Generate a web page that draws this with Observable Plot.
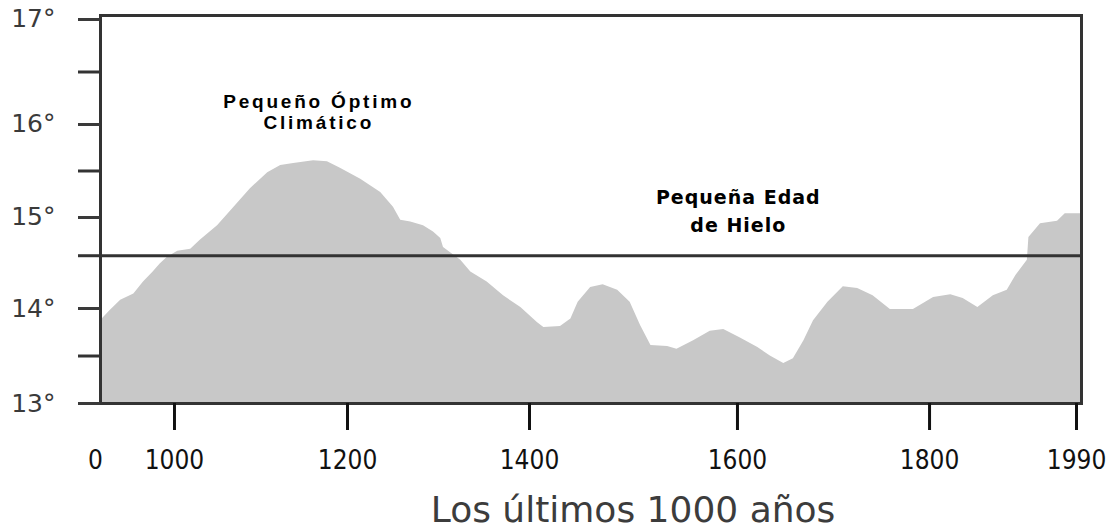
<!DOCTYPE html>
<html>
<head>
<meta charset="utf-8">
<script src="https://cdn.jsdelivr.net/npm/d3@7"></script>
<script src="https://cdn.jsdelivr.net/npm/@observablehq/plot@0.6"></script>
<style>
  html, body { margin: 0; padding: 0; background: #fff; }
  #chart svg { display: block; background: #fff; }
  g[font-family="Liberation Sans"] { letter-spacing: 2.8px; }
  g[font-family="DejaVu Sans"][font-weight="bold"] { letter-spacing: 1px; }
</style>
</head>
<body>
<div id="chart"></div>
<script>
// Temperature curve (year, °C)
const years = [910,921,933,948,959,970,978,986,998,1013,
  1024,1044,1062,1082,1102,1117,1132,1155,1171,1186,
  1209,1231,1245,1253,1264,1278,1289,1297,1300,1319,
  1330,1348,1366,1385,1403,1409,1425,1435,1442,1454,
  1466,1480,1492,1502,1512,1528,1537,1553,1569,1582,
  1598,1616,1629,1643,1653,1664,1674,1689,1705,1720,
  1736,1754,1778,1799,1821,1837,1856,1876,1894,1905,
  1920,1922,1937,1959,1969,1990];
const temps = [13.87,13.98,14.09,14.16,14.29,14.40,14.49,14.56,14.63,14.65,
  14.75,14.91,15.10,15.31,15.48,15.56,15.58,15.61,15.60,15.53,
  15.41,15.27,15.11,14.97,14.95,14.91,14.84,14.77,14.67,14.53,
  14.40,14.29,14.14,14.01,13.85,13.80,13.81,13.89,14.07,14.23,
  14.26,14.20,14.07,13.82,13.61,13.60,13.57,13.66,13.76,13.78,
  13.69,13.59,13.50,13.42,13.47,13.66,13.87,14.07,14.24,14.22,
  14.14,13.99,13.99,14.12,14.15,14.11,14.01,14.14,14.20,14.36,
  14.53,14.78,14.93,14.96,15.04,15.04];

const xTicks = [910, 1000, 1200, 1400, 1600, 1800, 1990];
const xTickLabels = ["0", "1000", "1200", "1400", "1600", "1800", "1990"];
const yTicks = [13, 14, 15, 16, 17];
const yMinorTicks = [13.5, 15.5, 16.5];
const referenceTemp = [14.58];
const annotationOptimo = "Pequeño Óptimo\nClimático";
const annotationHielo = "Pequeña Edad\nde Hielo";
const xTitle = "Los últimos 1000 años";

// The hand-drawn axes are unevenly spaced: fraction of the axis length at each tick
const xTickFractions = [0, 0.0805, 0.2569, 0.4424, 0.6544, 0.8502, 1];
const yTickFractions = [0, 0.2448, 0.4794, 0.7191, 0.9897];
const xWarp = d3.scaleLinear().domain(xTicks).range(xTickFractions);
const yWarp = d3.scaleLinear().domain(yTicks).range(yTickFractions);

const data = years.map((year, i) => ({year, temp: temps[i]}));
const lineColor = "#333";
const tickFont = "Liberation Sans Narrow, DejaVu Sans Condensed, DejaVu Sans, sans-serif";

const chart = Plot.plot({
  width: 1111,
  height: 532,
  marginTop: 15,
  marginLeft: 100,
  marginRight: 30,
  marginBottom: 129,
  style: {background: "#fff"},
  x: {transform: xWarp, domain: [0, 1]},
  y: {transform: yWarp, domain: [0, 1]},
  marks: [
    Plot.areaY(data, {x: "year", y1: 13, y2: "temp", fill: "#c8c8c8", curve: "linear"}),
    Plot.ruleY(referenceTemp, {stroke: lineColor, strokeWidth: 3}),
    Plot.frame({stroke: lineColor, strokeWidth: 3}),
    Plot.axisY(yTicks, {
      tickSize: 22, tickPadding: 23, strokeWidth: 3, color: "#3a3a3a",
      tickFormat: d => d + "°", fontSize: 25, fontFamily: "DejaVu Sans", label: null
    }),
    Plot.axisY([...yMinorTicks, ...referenceTemp], {
      tickSize: 22, strokeWidth: 3, color: lineColor, tickFormat: () => "", label: null
    }),
    Plot.axisX(xTicks.slice(1), {
      tickSize: 27, tickPadding: 20, strokeWidth: 3, color: "#111", dx: -5,
      tickFormat: d => xTickLabels[xTicks.indexOf(d)],
      fontSize: 26, fontFamily: tickFont, label: null
    }),
    Plot.axisX(xTicks.slice(0, 1), {
      tickSize: 0, tickPadding: 47, color: "#111", dx: -5,
      tickFormat: d => xTickLabels[xTicks.indexOf(d)],
      fontSize: 26, fontFamily: tickFont, label: null
    }),
    Plot.text([annotationOptimo], {
      x: 1161, y: 16.12, text: d => d, lineAnchor: "middle", lineHeight: 1.1,
      fontSize: 19, fontWeight: "bold", fontFamily: "Liberation Sans", fill: "#000"
    }),
    Plot.text([annotationHielo], {
      x: 1596, y: 15.09, text: d => d, lineAnchor: "middle", lineHeight: 1.5,
      fontSize: 19, fontWeight: "bold", fontFamily: "DejaVu Sans", fill: "#000"
    }),
    Plot.text([xTitle], {
      frameAnchor: "bottom", dx: 42, dy: 107, text: d => d, lineAnchor: "middle",
      fontSize: 36, fontFamily: "DejaVu Sans", fill: "#3c3c3c"
    })
  ]
});
document.getElementById("chart").append(chart);
</script>
</body>
</html>
